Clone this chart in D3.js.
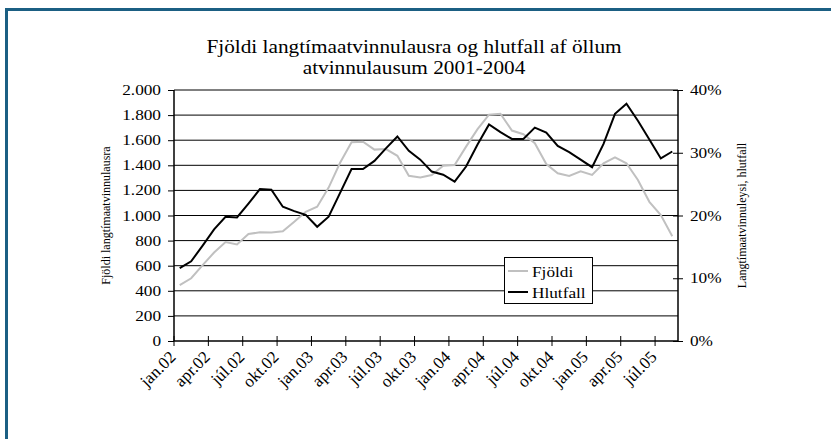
<!DOCTYPE html>
<html>
<head>
<meta charset="utf-8">
<script src="https://cdn.jsdelivr.net/npm/d3@7"></script>
<style>
  body { margin: 0; background: #fff; }
  text { font-family: "Liberation Serif", "Times New Roman", serif; fill: #000; }
</style>
</head>
<body>
<div id="chart-area"></div>
<script>

// months on the category axis (jan.02 - ágú.05)
let months = ["jan.02","feb.02","mar.02","apr.02","maí.02","jún.02","júl.02","ágú.02","sep.02","okt.02","nóv.02","des.02",
	"jan.03","feb.03","mar.03","apr.03","maí.03","jún.03","júl.03","ágú.03","sep.03","okt.03","nóv.03","des.03",
	"jan.04","feb.04","mar.04","apr.04","maí.04","jún.04","júl.04","ágú.04","sep.04","okt.04","nóv.04","des.04",
	"jan.05","feb.05","mar.05","apr.05","maí.05","jún.05","júl.05","ágú.05"];

// Fjöldi (left axis, number of people)
let fjoldi = [445, 500, 605, 705, 788, 770, 853, 866, 864, 874, 951, 1030,
	1070, 1222, 1420, 1584, 1588, 1525, 1529, 1476, 1316, 1303, 1323, 1397,
	1403, 1549, 1688, 1803, 1811, 1677, 1648, 1576, 1410, 1336, 1315, 1352,
	1323, 1416, 1464, 1416, 1283, 1109, 1003, 835];

// Hlutfall (right axis, %)
let hlutfall = [11.6, 12.7, 15.2, 17.8, 19.8, 19.7, 21.9, 24.2, 24.1, 21.4, 20.7, 20.1,
	18.2, 19.8, 23.6, 27.4, 27.4, 28.7, 30.7, 32.6, 30.3, 28.9, 27.0, 26.5,
	25.4, 27.8, 31.3, 34.5, 33.3, 32.2, 32.2, 34.0, 33.2, 31.1, 30.1, 28.9,
	27.7, 31.4, 36.2, 37.8, 35.1, 32.1, 29.1, 30.2];

let leftTicks = [0, 200, 400, 600, 800, 1000, 1200, 1400, 1600, 1800, 2000];
let rightTicks = [0, 10, 20, 30, 40];
let legendNames = ["Fjöldi", "Hlutfall"];

let W = 831, H = 439;
let plot = {left: 174, right: 678, top: 90, bottom: 341};
let sx = 1.15; // the original's text is a bit stretched sideways
let fmt = d3.format(",");

let svg = d3.select("#chart-area").append("svg")
	.attr("width", W)
	.attr("height", H);

svg.append("rect").attr("width", W).attr("height", H).style("fill", "#fff");

// frame
svg.append("path")
	.attr("d", "M6.5," + H + "V9.5H" + W)
	.style("fill", "none")
	.style("stroke", "#1b5f83")
	.style("stroke-width", 3);

function addText(g, x, y, str, size, anchor, k) {
	return g.append("text")
		.attr("transform", "translate(" + x + "," + y + ") scale(" + k + ",1)")
		.attr("text-anchor", anchor)
		.style("font-size", size + "px")
		.text(str);
}

// title
addText(svg, 414, 53, "Fjöldi langtímaatvinnulausra og hlutfall af öllum", 18.5, "middle", sx);
addText(svg, 414, 74, "atvinnulausum 2001-2004", 18.5, "middle", sx);

// scales
let x = d3.scaleBand()
	.domain(months)
	.range([plot.left, plot.right]);
let y = d3.scaleLinear()
	.domain([0, 2000])
	.range([plot.bottom, plot.top]);
let y2 = d3.scaleLinear()
	.domain([0, 40])
	.range([plot.bottom, plot.top]);

let cx = d => x(d) + x.bandwidth() / 2;

// gridlines
svg.append("g").selectAll("line")
	.data(leftTicks.filter(d => d > 0))
	.enter().append("line")
	.attr("x1", plot.left).attr("x2", plot.right)
	.attr("y1", d => y(d)).attr("y2", d => y(d))
	.style("stroke", "#000")
	.style("stroke-width", 1);

// left axis
let yAxisGroup = svg.append("g")
	.attr("transform", "translate(" + plot.left + ",0)")
	.call(d3.axisLeft(y).tickValues(leftTicks).tickSize(6).tickFormat(""));
yAxisGroup.select(".domain").remove();
yAxisGroup.selectAll(".tick line").attr("x2", -6).attr("x1", 0).style("stroke", "#000");
svg.append("line")
	.attr("x1", plot.left).attr("x2", plot.left)
	.attr("y1", plot.top).attr("y2", plot.bottom)
	.style("stroke", "#000").style("stroke-width", 1.5);

leftTicks.forEach(d => {
	addText(svg, 161, y(d) + 5, fmt(d).replace(/,/g, "."), 15, "end", sx);
});

// right axis
let y2AxisGroup = svg.append("g")
	.attr("transform", "translate(" + plot.right + ",0)")
	.call(d3.axisRight(y2).tickValues(rightTicks).tickSize(5).tickFormat(""));
y2AxisGroup.select(".domain").remove();
y2AxisGroup.selectAll(".tick line").attr("x1", -5).style("stroke", "#000");
svg.append("line")
	.attr("x1", plot.right).attr("x2", plot.right)
	.attr("y1", plot.top).attr("y2", plot.bottom)
	.style("stroke", "#000").style("stroke-width", 1.5);

rightTicks.forEach(d => {
	addText(svg, 690, y2(d) + 5, d + "%", 15, "start", sx);
});

// x axis
let tickMonths = months.filter((d, i) => i % 3 == 0);
svg.append("line")
	.attr("x1", plot.left).attr("x2", plot.right)
	.attr("y1", plot.bottom).attr("y2", plot.bottom)
	.style("stroke", "#000").style("stroke-width", 1.5);

svg.append("g").selectAll("line")
	.data(tickMonths)
	.enter().append("line")
	.attr("x1", d => x(d)).attr("x2", d => x(d))
	.attr("y1", plot.bottom - 5).attr("y2", plot.bottom + 5)
	.style("stroke", "#000");

svg.append("g").selectAll("text")
	.data(tickMonths)
	.enter().append("text")
	.attr("transform", d => "translate(" + (cx(d) - 3) + "," + (plot.bottom + 17) + ") rotate(-45)")
	.attr("text-anchor", "end")
	.style("font-size", "17px")
	.text(d => d);

// axis titles
svg.append("text")
	.attr("transform", "translate(110," + ((plot.top + plot.bottom) / 2) + ") rotate(-90)")
	.attr("text-anchor", "middle")
	.style("font-size", "12px")
	.text("Fjöldi langtímaatvinnulausra");

svg.append("text")
	.attr("transform", "translate(746," + ((plot.top + plot.bottom) / 2) + ") rotate(-90)")
	.attr("text-anchor", "middle")
	.style("font-size", "12px")
	.text("Langtímaatvinnuleysi, hlutfall");

// lines
let lineF = d3.line()
	.x((d, i) => cx(months[i]))
	.y(d => y(d));
let lineH = d3.line()
	.x((d, i) => cx(months[i]))
	.y(d => y2(d));

svg.append("path")
	.datum(fjoldi)
	.attr("d", lineF)
	.style("fill", "none")
	.style("stroke", "#c0c0c0")
	.style("stroke-width", 2);

svg.append("path")
	.datum(hlutfall)
	.attr("d", lineH)
	.style("fill", "none")
	.style("stroke", "#000")
	.style("stroke-width", 2);

// legend
let legend = svg.append("g").attr("transform", "translate(504,257)");
legend.append("rect")
	.attr("x", 0.5).attr("y", 0.5)
	.attr("width", 88).attr("height", 46)
	.style("fill", "#fff")
	.style("stroke", "#000");

let legendColors = ["#c0c0c0", "#000"];
legendNames.forEach((name, i) => {
	legend.append("line")
		.attr("x1", 4).attr("x2", 24)
		.attr("y1", 14 + i * 21).attr("y2", 14 + i * 21)
		.style("stroke", legendColors[i])
		.style("stroke-width", 2);
	addText(legend, 28, 20 + i * 21, name, 15, "start", sx);
});

</script>
</body>
</html>
